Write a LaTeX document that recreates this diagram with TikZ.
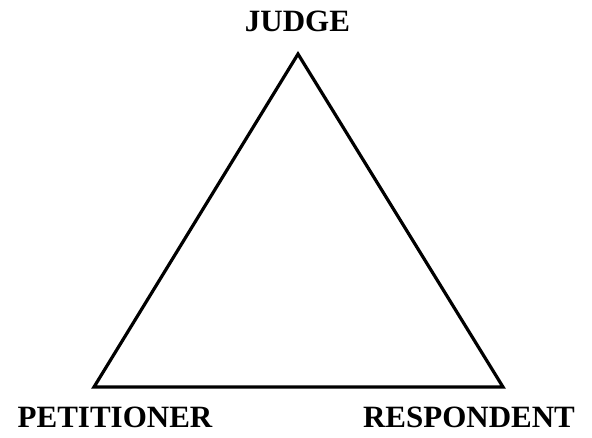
\documentclass[tikz,border=0pt]{standalone}
\usepackage{fontspec}
\setmainfont{Liberation Serif}
\begin{document}
\begin{tikzpicture}[x=1pt,y=-1pt,
  lbl/.style={font=\fontsize{31}{34}\selectfont\bfseries, inner sep=0pt, anchor=base},
  edge/.style={line width=3.2pt, line join=miter}]
\useasboundingbox (0,0) rectangle (592,437);
\coordinate (J) at (298,54);
\coordinate (P) at (94,387);
\coordinate (R) at (503,387);
\draw[edge] (J) -- (P) -- (R) -- cycle;
\node[lbl] (judge) at (297.5,31) {JUDGE};
\node[lbl] (pet) at (115,427) {PETITIONER};
\node[lbl] (resp) at (469,427) {RESPONDENT};
\end{tikzpicture}
\end{document}
